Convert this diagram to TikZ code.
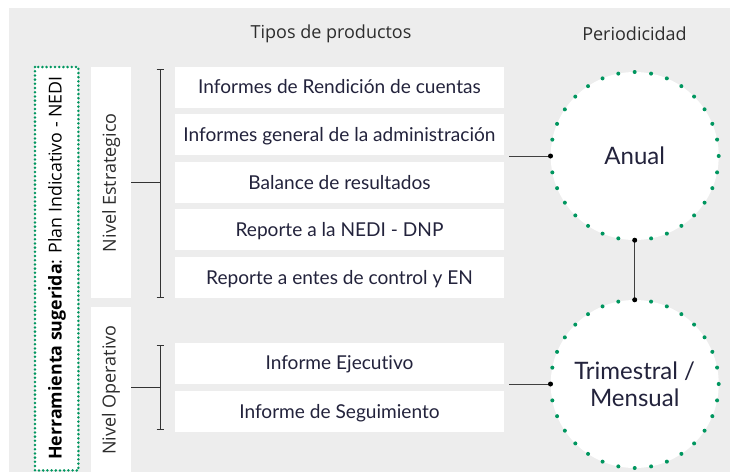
\documentclass[tikz,border=0pt]{standalone}
\usepackage{fontspec}
\setmainfont{Lato}[Ligatures=NoCommon]
\newfontfamily\hdrfont{Open Sans}[Ligatures=NoCommon]
\definecolor{bggrey}{RGB}{237,237,237}
\definecolor{dotgreen}{RGB}{0,150,95}
\definecolor{navy}{RGB}{35,35,60}
\definecolor{hdr}{RGB}{45,45,45}
\begin{document}
\begin{tikzpicture}[x=1pt,y=-1pt,
  prod/.style={draw=none,fill=white,minimum width=329pt,minimum height=41pt,inner sep=0pt,text height=13.6pt,text depth=0pt,text=navy,font=\fontsize{19.1}{22}\selectfont},
  lvl/.style={fill=white,inner sep=0pt,anchor=north west},
  lvltext/.style={rotate=90,text=hdr,font=\hdrfont\fontsize{18}{21}\selectfont},
  period/.style={circle,fill=white,minimum size=168pt,inner sep=0pt,text=navy,font=\fontsize{24}{29}\selectfont,align=center},
  dotring/.style={draw=dotgreen,line width=4pt,line cap=round,dash pattern=on 0pt off 16.493pt},
  conn/.style={draw=black!75,line width=0.9pt},
  endpt/.style={circle,fill=black,inner sep=0pt,minimum size=5pt},
  brk/.style={draw=black!80,line width=0.9pt},
  head/.style={text=hdr,font=\hdrfont\fontsize{18}{21}\selectfont}]
\useasboundingbox (0,0) rectangle (730,472);
\fill[white] (0,0) rectangle (730,472);
\fill[bggrey] (9,8) rectangle (730,472);
% headers
\node[head] (h1) at (331,34) {Tipos de productos};
\node[head] (h2) at (634.5,34) {Periodicidad};
% tool box
\node[lvl,minimum width=43pt,minimum height=403pt] (tool) at (35,67) {};
\draw[draw=dotgreen,line width=2.8pt,line cap=round,dash pattern=on 0pt off 4.2pt] (tool.north west) rectangle (tool.south east);
\node[rotate=90,text=black,font=\hdrfont\fontsize{17.8}{20}\selectfont] (tooltext) at (57,268) {\textbf{Herramienta sugerida}: Plan Indicativo - NEDI};
% level boxes
\node[lvl,minimum width=40pt,minimum height=231pt] (ne) at (91,67) {};
\node[lvltext] (netext) at (ne.center) {Nivel Estrategico};
\node[lvl,minimum width=40pt,minimum height=165pt] (no) at (91,307) {};
\node[lvltext] (notext) at (111,390) {Nivel Operativo};
% products
\node[prod] (p1) at (339.5,87) {Informes de Rendición de cuentas};
\node[prod] (p2) at (339.5,134.5) {Informes general de la administración};
\node[prod] (p3) at (339.5,182.5) {Balance de resultados};
\node[prod] (p4) at (339.5,229.5) {Reporte a la NEDI - DNP};
\node[prod] (p5) at (339.5,277.5) {Reporte a entes de control y EN};
\node[prod] (p6) at (339.5,363) {Informe Ejecutivo};
\node[prod] (p7) at (339.5,411.5) {Informe de Seguimiento};
% brackets
\coordinate (b1t) at (160,69);
\coordinate (b1b) at (160,297);
\coordinate (b1m) at (160,182);
\draw[brk] (b1t) -- (b1b);
\draw[brk] ([xshift=-3.5pt]b1t) -- ([xshift=3.5pt]b1t);
\draw[brk] ([xshift=-3.5pt]b1b) -- ([xshift=3.5pt]b1b);
\draw[brk] (ne.east |- b1m) -- (b1m);
\coordinate (b2t) at (160,345);
\coordinate (b2b) at (160,429);
\coordinate (b2m) at (160,387);
\draw[brk] (b2t) -- (b2b);
\draw[brk] ([xshift=-3.5pt]b2t) -- ([xshift=3.5pt]b2t);
\draw[brk] ([xshift=-3.5pt]b2b) -- ([xshift=3.5pt]b2b);
\draw[brk] (no.east |- b2m) -- (b2m);
% circles
\node[period] (anual) at (634.7,156) {Anual};
\draw[dotring] (anual.center) circle[radius=84];
\node[period] (trim) at (634.7,384) {Trimestral /\\[-2pt]Mensual};
\draw[dotring] (trim.center) circle[radius=84];
% connectors
\draw[conn] ([xshift=5pt]p2.east |- anual.west) -- (anual.west) node[endpt] {};
\draw[conn] (anual.south) node[endpt] {} -- (trim.north) node[endpt] {};
\draw[conn] ([xshift=5pt]p6.east |- trim.west) -- (trim.west) node[endpt] {};
\end{tikzpicture}
\end{document}
